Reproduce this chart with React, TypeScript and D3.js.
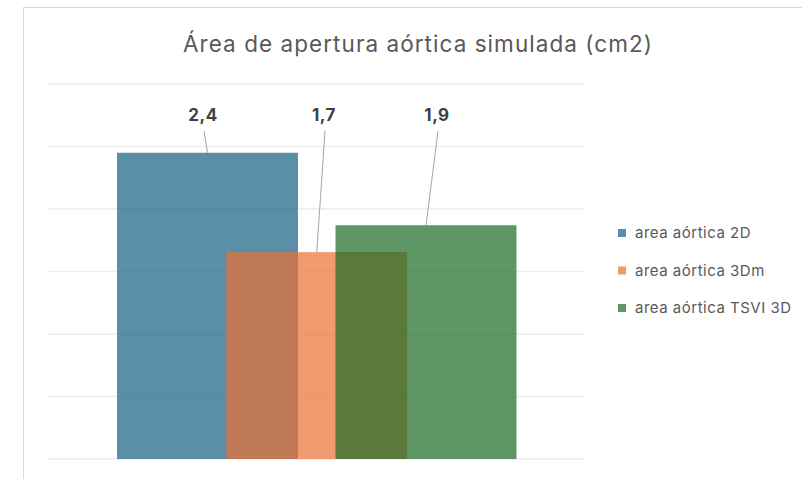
import React from "react";
import * as d3 from "d3";

const series = ["area aórtica 2D", "area aórtica 3Dm", "area aórtica TSVI 3D"];
const values = [2.45, 1.655, 1.87];
const labels = ["2,4", "1,7", "1,9"];
const colors = ["#156082", "#E97132", "#196B24"];
const yTicks = [0, 0.5, 1, 1.5, 2, 2.5, 3];
const title = "Área de apertura aórtica simulada (cm2)";

const W = 802;
const H = 479;
const plot = { left: 48, right: 585, top: 84, bottom: 459 };
const barWidth = 181;
const labelY = 121;

export default function App() {
  const y = d3.scaleLinear().domain([0, 3]).range([plot.bottom, plot.top]);
  const xc = d3.scalePoint<string>().domain(series).range([207.5, 426]);

  return (
    <svg
      width={W}
      height={H}
      style={{ position: "absolute", left: 0, top: 0, background: "#fff" }}
      fontFamily="Inter, 'Open Sans', sans-serif"
    >
      <rect x={23.5} y={7.5} width={W + 10} height={H + 10} fill="#fff" stroke="#d9d9d9" />
      <text
        x={183}
        y={52}
        fontSize={22.5}
        fill="#595959"
        textLength={469}
        lengthAdjust="spacing"
      >
        {title}
      </text>
      {yTicks.map((t) => (
        <line key={t} x1={plot.left} x2={plot.right} y1={y(t)} y2={y(t)} stroke="#ededed" strokeWidth={1.3} />
      ))}
      {series.map((s, i) => (
        <rect
          key={s}
          x={(xc(s) as number) - barWidth / 2}
          y={y(values[i])}
          width={barWidth}
          height={y(0) - y(values[i])}
          fill={colors[i]}
          fillOpacity={0.7}
        />
      ))}
      {series.map((s, i) => {
        const lx = [204, 325, 438][i];
        return (
          <g key={s + "lbl"}>
            <line x1={lx} y1={131} x2={xc(s) as number} y2={y(values[i])} stroke="#a6a6a6" strokeWidth={1} />
            <text x={lx - 1} y={labelY} textAnchor="middle" fontSize={17} fontWeight="bold" fill="#404040" letterSpacing={0.5}>
              {labels[i]}
            </text>
          </g>
        );
      })}
      {series.map((s, i) => (
        <g key={s + "leg"} transform={`translate(618, ${233 + i * 37.5})`}>
          <rect x={0} y={-4} width={8} height={8} fill={colors[i]} fillOpacity={0.7} />
          <text x={17} y={5} fontSize={15} fill="#595959" letterSpacing={0.5}>
            {s}
          </text>
        </g>
      ))}
    </svg>
  );
}
